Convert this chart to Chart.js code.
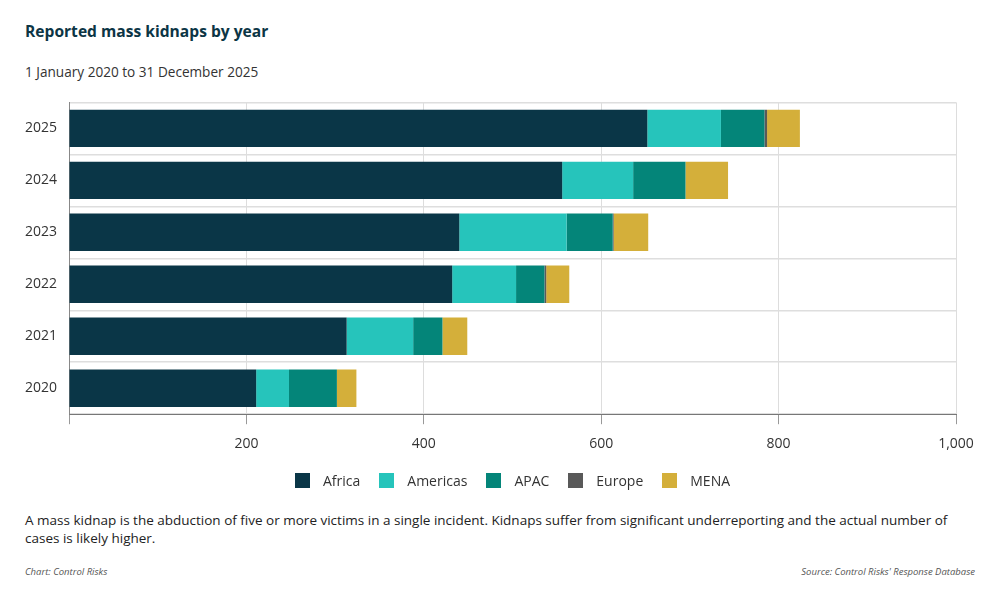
<!DOCTYPE html>
<html>
<head>
<meta charset="utf-8">
<script src="https://cdn.jsdelivr.net/npm/chart.js@4"></script>
<style>
    body { margin: 0; background: #fff; font-family: "Open Sans", sans-serif; }
    #pagina { position: relative; width: 1000px; height: 600px; overflow: hidden; }
    #titulo { position: absolute; left: 25px; top: 20px; font-size: 15.6px; font-weight: bold; color: #0c3545; }
    #subtitulo { position: absolute; left: 25px; top: 62px; font-size: 13.6px; color: #333; }
    #caixaGrafico { position: absolute; left: 0; top: 82px; width: 1000px; height: 393px; }
    #legenda { position: absolute; left: 69px; width: 887px; top: 471px; display: flex; justify-content: center; font-size: 14px; color: #333; }
    #legenda .item { display: flex; align-items: center; margin: 0 9.5px; }
    #legenda .caixa { width: 15px; height: 15px; margin-right: 13px; }
    #nota { position: absolute; left: 25px; top: 511px; width: 950px; font-size: 13.5px; line-height: 18px; color: #222; }
    #creditoGrafico { position: absolute; left: 25px; top: 565px; font-size: 9.5px; font-style: italic; color: #555; }
    #creditoFonte { position: absolute; right: 25px; top: 565px; font-size: 9.5px; font-style: italic; color: #555; }
</style>
</head>
<body>
<div id="pagina">
    <div id="titulo">Reported mass kidnaps by year</div>
    <div id="subtitulo">1 January 2020 to 31 December 2025</div>
    <div id="caixaGrafico"><canvas id="graficoSequestros"></canvas></div>
    <div id="legenda"></div>
    <div id="nota">A mass kidnap is the abduction of five or more victims in a single incident. Kidnaps suffer from significant underreporting and the actual number of cases is likely higher.</div>
    <div id="creditoGrafico">Chart: Control Risks</div>
    <div id="creditoFonte">Source: Control Risks' Response Database</div>
</div>
<script>
// ---- dados

const anos = ['2025', '2024', '2023', '2022', '2021', '2020'];

const africa   = [652, 556, 440, 432, 313, 211];
const americas = [83, 80, 121, 72, 75, 37];
const apac     = [49, 59, 52, 32, 33, 54];
const europe   = [3, 0, 1, 2, 0, 0];
const mena     = [37, 48, 39, 26, 28, 22];

const ticksX = [0, 200, 400, 600, 800, 1000];


// ---- montar o gráfico

Chart.defaults.font.family = '"Open Sans", sans-serif';
Chart.defaults.color = '#333';

const ctx = document.getElementById('graficoSequestros').getContext('2d');
let graficoSequestros = new Chart(ctx, {
    type: 'bar',
    data: {
        labels: anos,
        datasets: [
            { label: 'Africa',   data: africa,   backgroundColor: '#0a3647' },
            { label: 'Americas', data: americas, backgroundColor: '#26c4bb' },
            { label: 'APAC',     data: apac,     backgroundColor: '#048579' },
            { label: 'Europe',   data: europe,   backgroundColor: '#595959' },
            { label: 'MENA',     data: mena,     backgroundColor: '#d4af3a' }
        ]
    },
    options: {
        indexAxis: 'y',
        responsive: true,
        maintainAspectRatio: false,
        animation: false,
        layout: {
            padding: { left: 13, right: 44, top: 4, bottom: 12 }
        },
        datasets: {
            bar: { categoryPercentage: 1, barPercentage: 0.72 }
        },
        scales: {
            x: {
                stacked: true,
                min: 0,
                max: 1000,
                afterBuildTicks: (eixo) => { eixo.ticks = ticksX.map(v => ({ value: v })); },
                ticks: {
                    font: { size: 14 },
                    color: '#333',
                    padding: 11,
                    maxRotation: 0,
                    callback: (v) => v === 0 ? '' : v.toLocaleString('en-US')
                },
                grid: { color: '#dddddd', lineWidth: 1, tickLength: 10, tickColor: '#999' },
                border: { color: '#777', width: 1 }
            },
            y: {
                stacked: true,
                ticks: { font: { size: 14 }, color: '#333', padding: 12 },
                grid: { offset: true, color: '#dedede', lineWidth: 1.5, drawTicks: false },
                border: { color: '#888', width: 1 }
            }
        },
        plugins: {
            legend: { display: false },
            tooltip: { enabled: false }
        }
    }
});


// ---- legenda (feita a partir dos datasets)

const legenda = document.getElementById('legenda');
graficoSequestros.data.datasets.forEach(ds => {
    const item = document.createElement('div');
    item.className = 'item';
    item.innerHTML = `<span class="caixa" style="background:${ds.backgroundColor}"></span><span>${ds.label}</span>`;
    legenda.appendChild(item);
});
</script>
</body>
</html>
